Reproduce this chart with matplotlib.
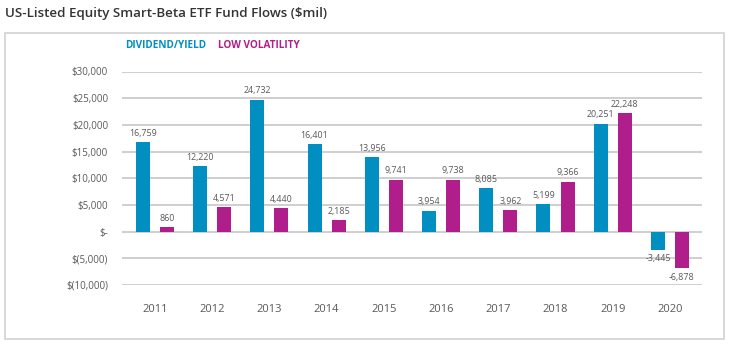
import matplotlib
matplotlib.use("Agg")
import matplotlib.pyplot as plt
from matplotlib.patches import Rectangle
import numpy as np

years = ["2011", "2012", "2013", "2014", "2015", "2016", "2017", "2018", "2019", "2020"]
dividend_yield = [16759, 12220, 24732, 16401, 13956, 3954, 8085, 5199, 20251, -3445]
low_volatility = [860, 4571, 4440, 2185, 9741, 9738, 3962, 9366, 22248, -6878]
y_ticks = [-10000, -5000, 0, 5000, 10000, 15000, 20000, 25000, 30000]
y_tick_labels = ["$(10,000)", "$(5,000)", "$-", "$5,000", "$10,000", "$15,000",
                 "$20,000", "$25,000", "$30,000"]

BLUE = "#008fc0"
MAGENTA = "#b01e8c"
GRAY_TXT = "#595959"
GRID = "#cccccc"

plt.rcParams["font.family"] = ["Open Sans", "DejaVu Sans"]

W, H = 730, 346
fig = plt.figure(figsize=(W / 100, H / 100), dpi=100)

# outer border box
fig.patches.append(Rectangle((5 / W, 1 - 339 / H), (724 - 5) / W, (339 - 33) / H,
                             transform=fig.transFigure, fill=False,
                             edgecolor="#d6d6d6", linewidth=1.3))

fig.text(5 / W, 1 - 13 / H, "US-Listed Equity Smart-Beta ETF Fund Flows ($mil)",
         fontsize=9.6, fontweight="semibold", color="#333333", va="center", ha="left")

fig.text(206 / W, 1 - 45 / H, "DIVIDEND/YIELD", fontsize=7.2, fontweight="bold",
         color=BLUE, va="center", ha="right")
fig.text(218 / W, 1 - 45 / H, "LOW VOLATILITY", fontsize=7.2, fontweight="bold",
         color=MAGENTA, va="center", ha="left")

left, right = 122 / W, 702 / W
top, bottom = 1 - 71.5 / H, 1 - 285 / H
ax = fig.add_axes([left, bottom, right - left, top - bottom])

x = np.arange(len(years))
w = 0.245
off = 0.21
b1 = ax.bar(x - off, dividend_yield, w, color=BLUE, zorder=3)
b2 = ax.bar(x + off, low_volatility, w, color=MAGENTA, zorder=3)

for bars, vals in ((b1, dividend_yield), (b2, low_volatility)):
    for rect, v in zip(bars, vals):
        cx = rect.get_x() + rect.get_width() / 2
        if v >= 0:
            ax.annotate(f"{v:,}", (cx, v), xytext=(0, 3), textcoords="offset points",
                        ha="center", va="bottom", fontsize=6.4, color=GRAY_TXT)
        else:
            ax.annotate(f"{v:,}", (cx, v), xytext=(0, -3), textcoords="offset points",
                        ha="center", va="top", fontsize=6.4, color=GRAY_TXT)

ax.set_xlim(-0.575, 9.56)
ax.set_ylim(-10000, 30000)
ax.set_yticks(y_ticks)
ax.set_yticklabels(y_tick_labels)
ax.set_xticks(x)
ax.set_xticklabels(years)
ax.tick_params(axis="y", length=0, pad=10, labelsize=7, labelcolor=GRAY_TXT)
ax.tick_params(axis="x", length=0, pad=14, labelsize=8, labelcolor=GRAY_TXT)
ax.yaxis.grid(True, color=GRID, linewidth=1.3, zorder=0)
ax.set_axisbelow(True)
for s in ax.spines.values():
    s.set_visible(False)
ax.set_facecolor("none")

fig.savefig("out.png", dpi=100, facecolor="white")
